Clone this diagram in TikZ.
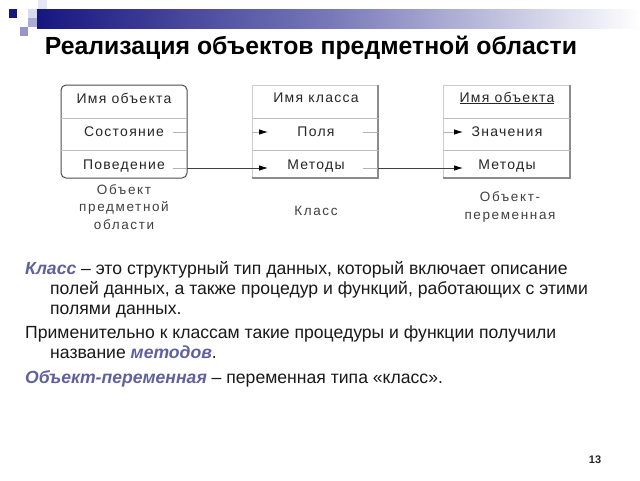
\documentclass[tikz,border=0pt]{standalone}
\usepackage{fontspec}
\setmainfont{Liberation Sans}
\newfontfamily\visiofont[LetterSpace=9]{Liberation Sans}
\newfontfamily\capfont[LetterSpace=12]{Liberation Sans}
\usetikzlibrary{arrows.meta}
\definecolor{navy}{RGB}{22,22,128}
\definecolor{midblue}{RGB}{120,120,185}
\definecolor{lav}{RGB}{150,150,205}
\definecolor{pale}{RGB}{218,218,238}
\definecolor{emphc}{RGB}{96,96,160}
\definecolor{bodyc}{RGB}{25,25,25}
\newcommand\emword[1]{{\color{emphc}\bfseries\itshape #1}}
\tikzset{
  boxtext/.style={font=\visiofont\fontsize{14}{16}\selectfont, text=black!85, inner sep=0pt},
  captext/.style={font=\capfont\fontsize{13.5}{17.5}\selectfont, text=black!75, align=center, inner sep=0pt},
  bodyline/.style={font=\fontsize{17.6}{20}\selectfont, text=bodyc, anchor=base west, inner sep=0pt},
  divider/.style={draw=black!25, line width=0.8pt},
  tickline/.style={draw=black!30, line width=0.8pt},
  conn/.style={draw=black!75, line width=0.8pt},
  tip/.style={-{Latex[length=9pt,width=5.5pt,color=black]}},
}
\begin{document}
\begin{tikzpicture}[x=1pt,y=-1pt]
\useasboundingbox (0,0) rectangle (640,480);
\fill[white] (0,0) rectangle (640,480);
% header decoration
\shade[left color=navy, right color=midblue] (37,9) rectangle (330,28);
\shade[left color=midblue, right color=white] (330,9) rectangle (640,28);
\fill[navy] (9,9) rectangle (17,18);
\fill[pale] (28,9) rectangle (37,18);
\fill[pale!70] (38,0) rectangle (47,9);
\fill[lav!80] (28,18) rectangle (37,27);
\fill[lav] (20,27) rectangle (28,36);
% title
\node[font=\bfseries\fontsize{24.8}{28}\selectfont, inner sep=0pt] (title) at (311,48) {Реализация объектов предметной области};

% box 1
\draw[draw=black!70, line width=1pt, rounded corners=5pt] (61,85) rectangle (187,178);
\draw[divider] (61,118) -- (187,118);
\draw[divider] (61,150) -- (187,150);
\node[boxtext] (o1name) at (124,98) {Имя объекта};
\node[boxtext] (o1state) at (124,132) {Состояние};
\node[boxtext] (o1beh) at (124,166) {Поведение};
\node[captext] (cap1) at (124,207) {Объект\\предметной\\области};

% box 2
\draw[draw=black!20, line width=0.8pt] (252,178) -- (252,85) -- (378,85);
\draw[draw=black!45, line width=1.6pt] (378,85) -- (378,178) -- (252,178);
\draw[divider] (252,118) -- (378,118);
\draw[divider] (252,150) -- (378,150);
\node[boxtext] (c2name) at (316,98) {Имя класса};
\node[boxtext] (c2fields) at (316,132) {Поля};
\node[boxtext] (c2meth) at (316,166) {Методы};
\node[captext] (cap2) at (316,211) {Класс};

% box 3
\draw[draw=black!20, line width=0.8pt] (443,178) -- (443,85) -- (570,85);
\draw[draw=black!45, line width=1.6pt] (570,85) -- (570,178) -- (443,178);
\draw[divider] (443,118) -- (570,118);
\draw[divider] (443,150) -- (570,150);
\node[boxtext] (v3name) at (507,98) {\underline{Имя объекта}};
\node[boxtext] (v3vals) at (507,132) {Значения};
\node[boxtext] (v3meth) at (507,166) {Методы};
\node[captext] (cap3) at (510,207) {Объект-\\переменная};

% connector points
\coordinate (t1a) at (173,132);
\coordinate (t1b) at (187,132);
\coordinate (t1c) at (173,168);
\coordinate (b1out) at (187,168);
\coordinate (b2in1) at (252,132);
\coordinate (b2tip1) at (268,132);
\coordinate (b2tip2) at (268,168);
\coordinate (t2a) at (363,132);
\coordinate (t2b) at (378,132);
\coordinate (t2c) at (363,168);
\coordinate (b2out) at (378,168);
\coordinate (b3in1) at (443,132);
\coordinate (b3tip1) at (463,132);
\coordinate (b3tip2) at (463,168);

\draw[tickline] (t1a) -- (t1b);
\draw[tickline] (t1c) -- (b1out);
\draw[conn, tip] (b1out) -- (b2tip2);
\draw[tickline, tip] (b2in1) -- (b2tip1);
\draw[tickline] (t2a) -- (t2b);
\draw[tickline] (t2c) -- (b2out);
\draw[conn, tip] (b2out) -- (b3tip2);
\draw[tickline, tip] (b3in1) -- (b3tip1);

% body text
\node[bodyline] (l1) at (25,274) {\emword{Класс} – это структурный тип данных, который включает описание};
\node[bodyline] (l2) at (50,294) {полей данных, а также процедур и функций, работающих с этими};
\node[bodyline] (l3) at (50,314) {полями данных.};
\node[bodyline] (l4) at (25,338) {Применительно к классам такие процедуры и функции получили};
\node[bodyline] (l5) at (50,358) {название \emword{методов}.};
\node[bodyline] (l6) at (25,383) {\emword{Объект-переменная} – переменная типа «класс».};

% page number
\node[font=\bfseries\fontsize{11}{13}\selectfont, text=black!85, inner sep=0pt] (pg) at (595,460) {13};
\end{tikzpicture}
\end{document}
